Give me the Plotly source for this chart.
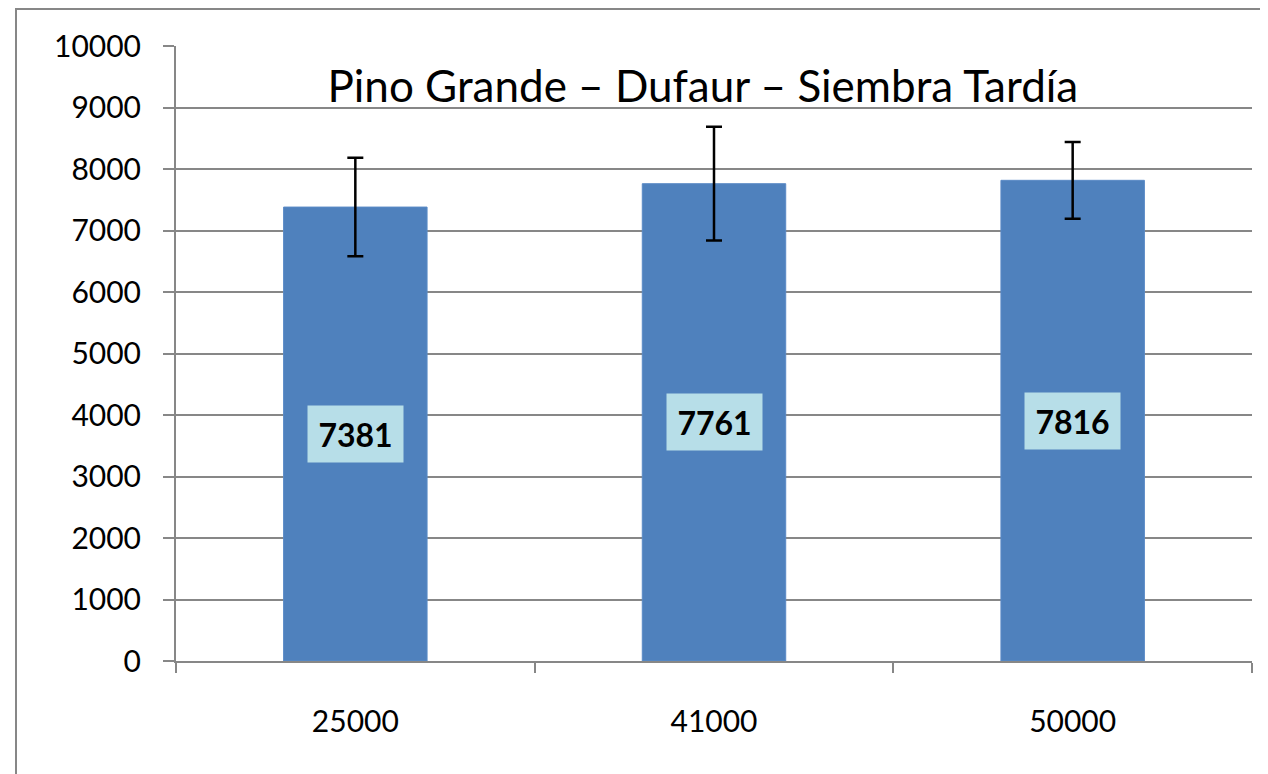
import plotly.graph_objects as go

# densidades de siembra y rendimientos (kg/ha)
densidades = ['25000', '41000', '50000']
rendimientos = [7381, 7761, 7816]
errores = [800, 925, 625]

FONT = 'Lato'
GRIS = '#878787'

fig = go.Figure()
fig.add_trace(go.Bar(
    x=densidades, y=rendimientos,
    marker=dict(color='#4F81BD', line=dict(color='#5A8AC6', width=1)),
    error_y=dict(type='data', array=errores, visible=True,
                 color='black', thickness=2.5, width=8),
    showlegend=False,
))

# etiquetas de datos en el centro de cada barra
for i, r in enumerate(rendimientos):
    fig.add_annotation(x=i, y=r / 2, text='<b>%d</b>' % r, showarrow=False,
                       bgcolor='#B7DEE8', width=93, height=54,
                       font=dict(family=FONT, size=32, color='black'))

# borde del área del gráfico
fig.add_shape(type='rect', xref='paper', yref='paper',
              x0=-0.1487, x1=1.2, y0=-0.3, y1=1.0602,
              line=dict(color=GRIS, width=2), fillcolor='rgba(0,0,0,0)',
              layer='below')

fig.update_layout(
    width=1268, height=774,
    margin=dict(l=168, r=24, t=38, b=121, autoexpand=False),
    paper_bgcolor='white', plot_bgcolor='white',
    bargap=0.6,
    font=dict(family=FONT, size=30, color='black'),
    title=dict(text='Pino Grande – Dufaur – Siembra Tardía',
               x=0.548, xanchor='center', y=1 - 79 / 774, yanchor='middle',
               font=dict(family=FONT, size=44, color='black')),
)
fig.update_yaxes(range=[0, 10000], dtick=1000, tickformat='d', showgrid=True,
                 gridcolor=GRIS, gridwidth=2, automargin=False,
                 showline=True, linecolor=GRIS, linewidth=2,
                 ticks='outside', ticklen=11, tickwidth=2, tickcolor=GRIS,
                 ticklabelstandoff=16, zeroline=False,
                 tickfont=dict(family=FONT, size=30))
fig.update_xaxes(type='category', range=[-0.5, 2.5],
                 showline=True, linecolor=GRIS, linewidth=2,
                 ticks='outside', tickson='boundaries', ticklen=10,
                 tickwidth=2, tickcolor=GRIS, ticklabelstandoff=33,
                 automargin=False, tickangle=0,
                 tickfont=dict(family=FONT, size=30))

fig.write_html('out.html')
